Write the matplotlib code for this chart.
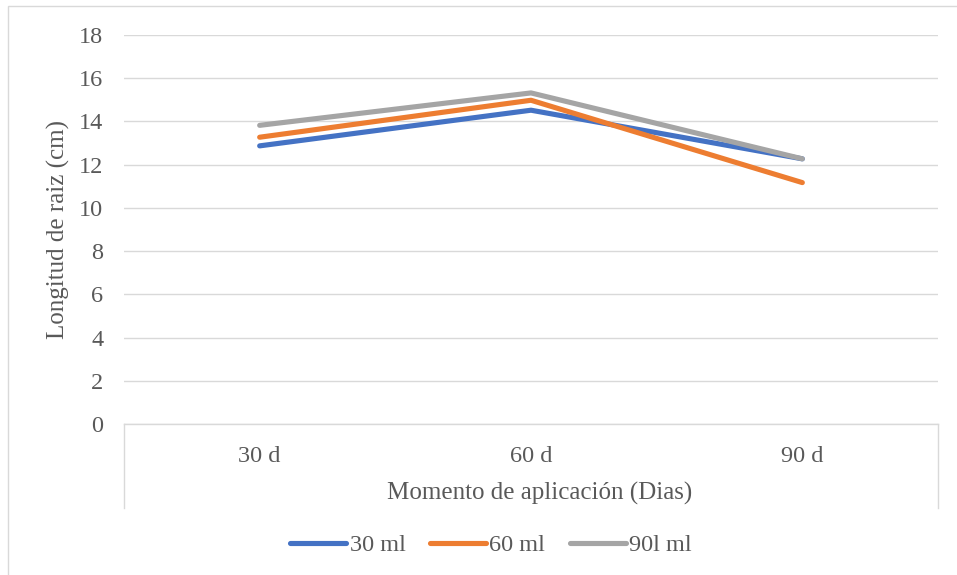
import matplotlib
matplotlib.use("Agg")
import matplotlib.pyplot as plt
from matplotlib.patches import Rectangle

# ---------------------------------------------------------------------------
# Data
# ---------------------------------------------------------------------------
categories = ["30 d", "60 d", "90 d"]
series_names = ["30 ml", "60 ml", "90l ml"]
vals_30ml = [12.87, 14.52, 12.27]
vals_60ml = [13.27, 14.98, 11.17]
vals_90ml = [13.82, 15.32, 12.27]
colors = ["#4472C4", "#ED7D31", "#A5A5A5"]
y_ticks = list(range(0, 20, 2))

plt.rcParams["font.family"] = ["Liberation Serif", "DejaVu Serif"]
TXT = "#595959"
GRID = "#D9D9D9"
FS = 17.5

W, H = 957, 575
# plot area in pixel coordinates: x 124..938, y 35..424
PX0, PX1, PY0, PY1 = 124, 938, 35, 424
fig = plt.figure(figsize=(W / 100, H / 100), dpi=100)
ax = fig.add_axes([PX0 / W, 1 - PY1 / H, (PX1 - PX0) / W, (PY1 - PY0) / H])

x = list(range(len(categories)))
for vals, name, c in zip([vals_30ml, vals_60ml, vals_90ml], series_names, colors):
    ax.plot(x, vals, color=c, lw=3.7, solid_capstyle="round",
            solid_joinstyle="round", label=name, zorder=3)

ax.set_xlim(-0.5, len(categories) - 0.5)
ax.set_ylim(0, 18)
ax.set_yticks(y_ticks)
ax.set_xticks(x)
ax.set_xticklabels(categories)
ax.tick_params(axis="both", length=0, colors=TXT, labelsize=FS)
ax.tick_params(axis="y", pad=15)
ax.tick_params(axis="x", pad=16)
ax.grid(axis="y", color=GRID, lw=1)
ax.set_axisbelow(True)
for s in ["top", "right", "left"]:
    ax.spines[s].set_visible(False)
ax.spines["bottom"].set_color(GRID)
ax.spines["bottom"].set_linewidth(1)

# category axis box edges (Excel style)
box_h = (508 - PY1) / (PY1 - PY0)
for xe in [0, 1]:
    ax.plot([xe, xe], [0, -box_h], transform=ax.transAxes, color=GRID,
            lw=1, clip_on=False)

ax.set_ylabel("Longitud de raiz (cm)", fontsize=18, color=TXT, labelpad=6)
ax.set_xlabel("Momento de aplicación (Dias)", fontsize=18, color=TXT)
ax.xaxis.set_label_coords((540 - PX0) / (PX1 - PX0),
                          (PY1 - 493) / (PY1 - PY0))
ax.xaxis.label.set_verticalalignment("center")

leg = fig.legend(loc="center", bbox_to_anchor=(491 / W, 1 - 545 / H), ncol=3,
                 frameon=False, fontsize=FS, handlelength=2.3,
                 handletextpad=0.15, columnspacing=1.0)
for t in leg.get_texts():
    t.set_color(TXT)

# outer chart border
fig.patches.append(Rectangle((8 / W, -0.05), 1.1, 1 - 6 / H + 0.05,
                             transform=fig.transFigure, fill=False,
                             edgecolor=GRID, lw=1))

fig.savefig("out.png", dpi=100)
